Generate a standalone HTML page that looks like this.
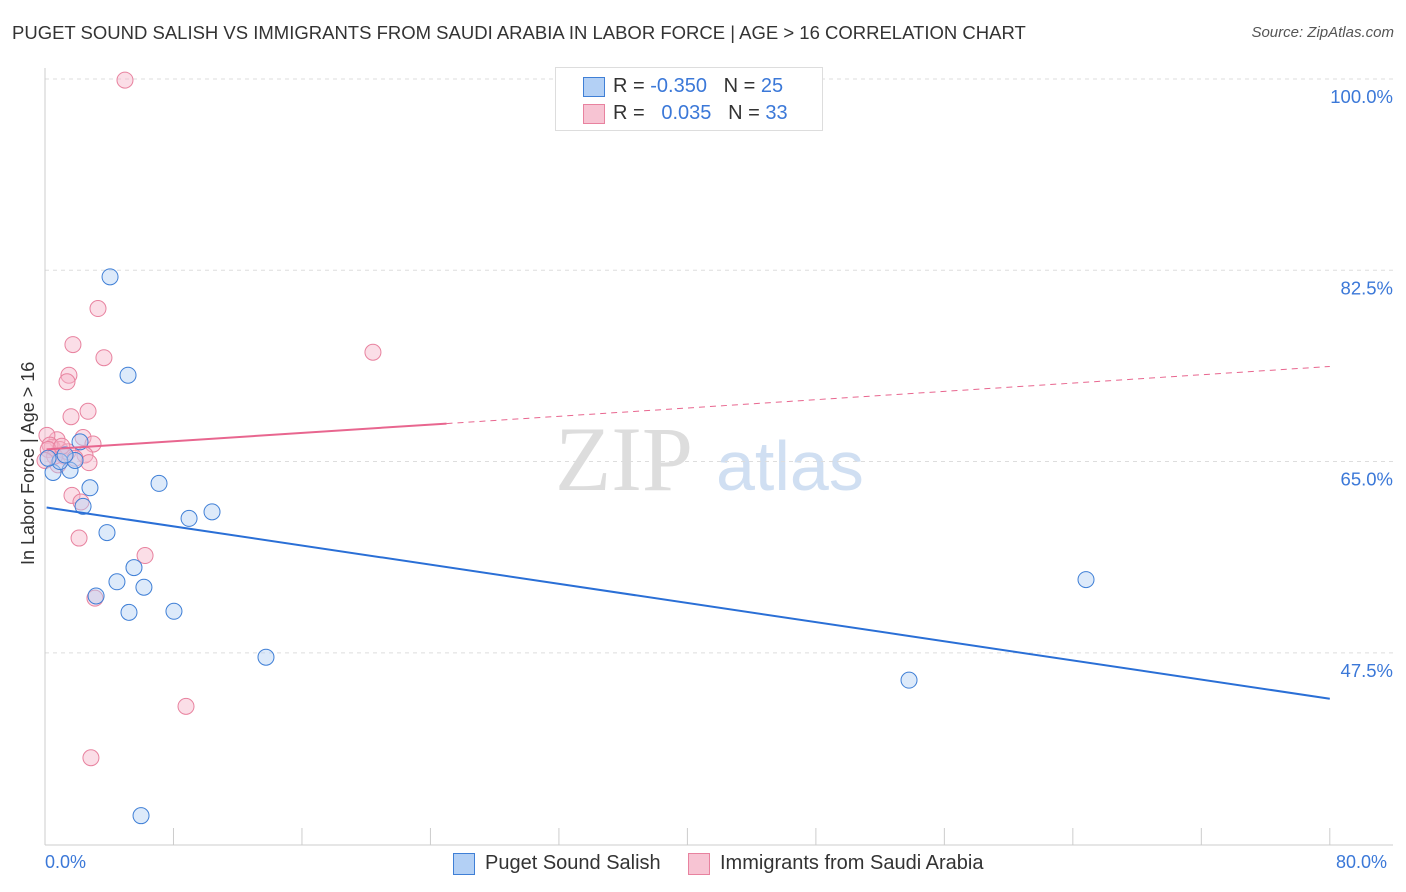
<!DOCTYPE html>
<html><head><meta charset="utf-8"><style>
body{margin:0;background:#fff;font-family:"Liberation Sans",sans-serif;}
#wrap{position:relative;width:1406px;height:892px;overflow:hidden;}
.t{position:absolute;white-space:nowrap;}
</style></head><body>
<div id="wrap">
<div class="t" style="left:12px;top:22px;font-size:18.5px;color:#333;">PUGET SOUND SALISH VS IMMIGRANTS FROM SAUDI ARABIA IN LABOR FORCE | AGE &gt; 16 CORRELATION CHART</div>
<div class="t" style="right:12px;top:24px;font-size:15px;color:#555;font-style:italic;">Source: ZipAtlas.com</div>
<svg id="svg" width="1406" height="892" style="position:absolute;left:0;top:0"></svg>
</div>
<script>
const yTicks=[100,82.5,65,47.5];
const yTickLabels=["100.0%","82.5%","65.0%","47.5%"];
const blueX=[4.05,5.17,7.10,10.40,8.97,2.80,3.86,2.37,5.54,4.48,6.16,3.18,5.23,8.03,13.76,53.80,64.82,5.98,0.50,1.56,1.87,0.93,2.18,0.19,1.25];
const blueY=[81.9,72.9,63.0,60.4,59.8,62.6,58.5,60.9,55.3,54.0,53.5,52.7,51.2,51.3,47.1,45.0,54.2,32.6,64.0,64.2,65.1,65.0,66.8,65.3,65.6];
const pinkX=[4.98,3.30,1.74,3.67,20.42,1.49,1.37,2.68,1.62,2.37,2.99,0.75,0.12,0.44,0.93,1.18,2.49,2.74,0.81,1.68,2.24,2.12,6.23,3.11,8.78,2.86,0.31,1.43,0.2,0.6,1.05,1.87,0.0];
const pinkY=[99.9,79.0,75.7,74.5,75.0,72.9,72.3,69.6,69.1,67.2,66.6,67.0,67.4,66.3,66.1,65.5,65.6,64.9,64.7,61.9,61.3,58.0,56.4,52.5,42.6,37.9,66.5,65.9,66.1,65.5,66.4,65.3,65.1];
const blueTrend=[60.8,43.3];
const pinkTrend=[66.1,73.7];
const pinkSolidEnd=25;
const X=v=>45+v*16.06, Y=v=>79+(100-v)*10.93;
const svg=document.getElementById('svg');const NS='http://www.w3.org/2000/svg';
function el(t,a,p){const e=document.createElementNS(NS,t);for(const k in a)e.setAttribute(k,a[k]);(p||svg).appendChild(e);return e;}
let w=el('text',{x:555,y:490,'font-size':92,'font-family':'Liberation Serif,serif',fill:'#ddd'});w.textContent='ZIP';


let w2=el('text',{x:716,y:490,'font-size':70,'font-family':'Liberation Sans,sans-serif',fill:'#d0dff2'});w2.textContent='atlas';


yTicks.forEach((v,i)=>{
 const g=el('line',{x1:45,x2:1393,y1:Y(v),y2:Y(v),stroke:'#ddd','stroke-dasharray':'4,4'});
 
 
 const t=el('text',{x:1393,y:Y(v)+24,'text-anchor':'end','font-size':18.5,fill:'#3b78d8','font-family':'Liberation Sans,sans-serif'});t.textContent=yTickLabels[i];
 
 
});
let ax=el('line',{x1:45,x2:1393,y1:845,y2:845,stroke:'#ccc'});


let ay=el('line',{x1:45,x2:45,y1:68,y2:845,stroke:'#ccc'});


for(let i=0;i<=10;i++){const tk=el('line',{x1:X(i*8),x2:X(i*8),y1:828,y2:845,stroke:'#ccc'});
 
 }
function dots(xs,ys,fill,stroke,name){xs.forEach((x,i)=>{const c=el('circle',{cx:X(x),cy:Y(ys[i]),r:8,fill:fill,'fill-opacity':0.45,stroke:stroke,'stroke-width':1});
 
 });}
dots(pinkX,pinkY,'#f7b6c9','#e8829f','point-saudi-arabia');
dots(blueX,blueY,'#b3d0f5','#3f7fd6','point-puget-sound-salish');
let bl=el('line',{x1:X(0.1),y1:Y(blueTrend[0]),x2:X(80),y2:Y(blueTrend[1]),stroke:'#2a6fd6','stroke-width':2});


const py=x=>pinkTrend[0]+(pinkTrend[1]-pinkTrend[0])*x/80;
let pl=el('line',{x1:X(0.1),y1:Y(py(0.1)),x2:X(pinkSolidEnd),y2:Y(py(pinkSolidEnd)),stroke:'#e8668f','stroke-width':2});


let pd=el('line',{x1:X(pinkSolidEnd),y1:Y(py(pinkSolidEnd)),x2:X(80),y2:Y(py(80)),stroke:'#e8668f','stroke-width':1,'stroke-dasharray':'6,5'});


</script>
<div class="t" style="left:18px;top:565px;transform:rotate(-90deg);transform-origin:0 0;font-size:18px;color:#333;">In Labor Force | Age &gt; 16</div>
<div class="t" style="left:45px;top:852px;font-size:18px;color:#3b78d8;">0.0%</div>
<div class="t" style="left:1336px;top:852px;font-size:18px;color:#3b78d8;">80.0%</div>
<div style="position:absolute;left:555px;top:67px;width:266px;height:62px;border:1px solid #ddd;background:#fff;font-size:20px;color:#333;">
 <div style="position:absolute;left:27px;top:9px;width:20px;height:18px;background:#b3d0f5;border:1px solid #3f7fd6;"></div>
 <div class="t" style="left:57px;top:7px;">R = <span style="color:#3b78d8">-0.350</span>&nbsp;&nbsp;&nbsp;N = <span style="color:#3b78d8">25</span></div>
 <div style="position:absolute;left:27px;top:36px;width:20px;height:18px;background:#f7c4d3;border:1px solid #e8829f;"></div>
 <div class="t" style="left:57px;top:34px;">R = &nbsp;&nbsp;<span style="color:#3b78d8">0.035</span>&nbsp;&nbsp;&nbsp;N = <span style="color:#3b78d8">33</span></div>
</div>
<div style="position:absolute;left:453px;top:853px;width:20px;height:20px;background:#b3d0f5;border:1px solid #3f7fd6;"></div>
<div class="t" style="left:485px;top:852px;font-size:20px;color:#333;">Puget Sound Salish</div>
<div style="position:absolute;left:688px;top:853px;width:20px;height:20px;background:#f7c4d3;border:1px solid #e8829f;"></div>
<div class="t" style="left:720px;top:852px;font-size:20px;color:#333;">Immigrants from Saudi Arabia</div>
</body></html>
